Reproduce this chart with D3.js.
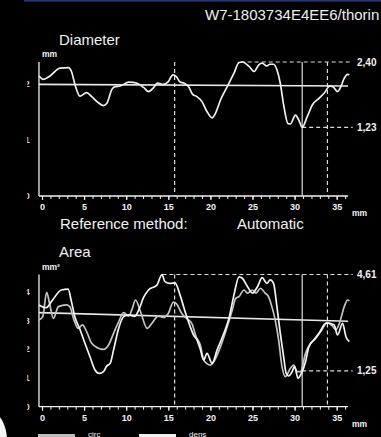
<!DOCTYPE html>
<html><head><meta charset="utf-8">
<script src="https://cdn.jsdelivr.net/npm/d3@7"></script>
<style>html,body{margin:0;padding:0;background:#000;overflow:hidden}svg{display:block}</style>
</head><body>
<script>
// ---- data (mm position, value) ----
const xTicks = d3.range(0, 37);
const xLabels = [0, 5, 10, 15, 20, 25, 30, 35];
const diamYTicks = [0, 1, 2];
const areaYTicks = [0, 1, 2, 3, 4];

const diamPos = [-0.36,0.15,0.95,2.14,3.13,3.5,3.93,4.5,5.3,5.9,6.7,7.3,7.7,8.3,8.7,9.3,10.3,11.3,12.1,12.65,13.25,13.7,14.4,15.0,15.55,15.95,16.4,16.9,17.4,17.9,18.4,19.0,19.6,20.2,20.6,21.2,22.0,22.8,23.4,23.8,24.6,25.2,25.75,26.15,26.7,27.06,27.5,27.9,28.3,28.7,29.2,29.5,30.1,30.5,30.9,31.5,32.1,32.9,33.5,34.2,34.6,35.1,35.5,35.9,36.3,36.5];
const diamVal = [2.15,2.09,2.15,2.29,2.30,2.23,1.99,1.79,1.85,1.78,1.67,1.62,1.66,1.91,1.96,1.97,2.04,2.02,1.94,1.87,1.94,2.02,2.0,2.05,2.17,2.14,2.04,2.02,1.96,1.82,1.78,1.69,1.51,1.40,1.48,1.72,1.96,2.20,2.39,2.40,2.32,2.23,2.35,2.38,2.33,2.36,2.36,2.26,2.02,1.63,1.30,1.29,1.45,1.36,1.23,1.42,1.63,1.75,1.84,1.97,1.95,1.87,1.96,2.11,2.18,2.17];
const diamRef = [2.0, 1.97];

const circPos = [-0.36,0.1,0.55,0.9,1.35,1.95,2.9,3.3,3.8,4.3,4.8,5.3,5.9,6.7,7.3,7.9,8.5,9.1,9.7,10.3,10.7,11.1,11.7,12.5,13.06,13.8,14.4,15.0,15.6,16.0,16.6,17.2,17.8,18.3,18.8,19.2,19.6,20.0,20.4,21.2,22.0,22.6,23.0,23.4,24.0,24.4,25.0,25.4,25.95,26.5,26.9,27.3,27.7,28.1,28.5,28.9,29.5,29.9,30.3,30.7,31.3,31.9,32.5,33.1,33.9,34.5,34.9,35.3,35.9,36.3,36.5];
const circVal = [3.02,3.15,3.99,3.6,3.08,3.49,3.55,3.49,3.02,2.73,2.85,2.62,2.21,2.04,2.0,2.15,2.56,2.96,3.28,3.16,3.4,3.72,3.31,2.73,2.91,3.16,3.11,3.25,3.65,3.58,3.25,3.07,2.9,2.44,2.15,1.63,1.5,1.45,1.57,2.09,2.79,3.37,3.78,3.84,4.07,3.96,4.07,3.96,4.13,3.96,3.84,3.49,3.02,2.33,1.4,1.05,1.34,1.45,1.22,1.22,1.86,2.21,2.38,2.62,2.93,2.81,2.68,2.89,3.49,3.72,3.69];

const densPos = [-0.36,0.5,1.2,2.3,3.1,3.5,3.9,4.5,5.1,5.7,6.3,6.8,7.3,7.7,8.1,8.5,9.1,9.7,10.3,11.0,11.6,12.06,12.65,13.65,14.25,14.6,15.2,15.8,16.4,17.0,17.6,18.0,18.4,18.8,19.2,19.6,20.2,20.8,21.6,22.2,22.8,23.4,23.8,24.4,25.0,25.6,26.15,26.7,27.1,27.5,27.9,28.3,28.7,29.0,29.3,29.7,30.0,30.4,30.8,31.3,31.7,32.3,32.9,33.7,34.1,34.7,35.1,35.7,36.1,36.5];
const densVal = [3.55,3.45,3.7,4.07,4.1,3.66,3.14,2.7,2.21,1.74,1.28,1.16,1.22,1.42,1.51,1.98,2.73,3.14,3.2,3.15,3.45,3.81,4.07,4.24,4.61,4.36,4.3,4.32,3.89,3.31,2.79,2.5,2.33,2.0,1.63,1.86,1.51,1.98,2.56,3.08,3.9,4.53,4.48,4.19,3.96,4.19,4.5,4.3,4.42,4.3,3.49,2.56,1.74,1.16,1.07,1.22,1.4,0.99,1.16,1.57,2.09,2.33,2.56,2.91,2.91,2.85,2.5,2.91,2.44,2.27];
const areaRef = [3.28, 2.98];

const markers = {start: 15.75, cursor: 30.9, end: 33.9};
const diamMax = 2.40, diamMin = 1.23, diamMaxAt = 23.6;
const areaMax = 4.61, areaMin = 1.25, areaMaxAt = 14.3;

// ---- drawing ----
const W = 381, H = 437;
const svg = d3.select("body").append("svg").attr("width", W).attr("height", H)
  .style("font-family", "'Liberation Sans', Arial, sans-serif");
svg.append("rect").attr("width", W).attr("height", H).attr("fill", "#000");
svg.append("rect").attr("x", 24).attr("y", 0).attr("width", W - 24).attr("height", 1.6).attr("fill", "#1d3b7c");

svg.append("text").attr("x", 205).attr("y", 20).attr("fill", "#eee").attr("font-size", 15)
  .text("W7-1803734E4EE6/thorin");

const x = d3.scaleLinear().domain([0, 35]).range([42, 336.7]);
const xStart = -0.36, xEnd = 36.35, xLabelEnd = 36.9;
const dash = "4,3";
const fg = "#f2f2f2";

svg.append("defs").append("clipPath").attr("id", "ylab")
  .append("rect").attr("x", 27.3).attr("y", 0).attr("width", 10).attr("height", H);

function panel(cfg) {
  const y = d3.scaleLinear().domain([0, cfg.max]).range([cfg.bottom, cfg.top]);
  const g = svg.append("g");
  g.append("text").attr("x", 59).attr("y", cfg.titleY).attr("fill", fg).attr("font-size", 15).text(cfg.title);
  g.append("text").attr("x", 42).attr("y", cfg.top - 5).attr("fill", fg).attr("font-size", 8.5)
    .attr("font-weight", "bold").text(cfg.unit);
  // y labels (clipped at left edge, as in the source)
  g.append("g").attr("clip-path", "url(#ylab)").selectAll("text").data(cfg.yTicks).join("text")
    .attr("x", 29.8).attr("y", d => y(d)).attr("dy", "0.35em").attr("text-anchor", "end")
    .attr("fill", "#ddd").attr("font-size", 9).attr("font-weight", "bold").text(d => d);
  g.append("line").attr("x1", x(xStart)).attr("x2", x(xStart)).attr("y1", cfg.top).attr("y2", cfg.bottom)
    .attr("stroke", fg).attr("stroke-width", 1.3);
  const ax = d3.axisBottom(x).tickValues(xTicks).tickSize(3).tickFormat("").tickSizeOuter(0);
  const axg = g.append("g").attr("transform", `translate(0,${cfg.bottom})`).call(ax);
  axg.select(".domain").remove();
  axg.selectAll("line").attr("stroke", fg).attr("stroke-width", 1);
  const axl = d3.axisBottom(x).tickValues(xLabels).tickSize(4).tickPadding(4).tickSizeOuter(0);
  const axlg = g.append("g").attr("transform", `translate(0,${cfg.bottom})`).call(axl);
  axlg.select(".domain").remove();
  axlg.selectAll("line").attr("stroke", fg).attr("stroke-width", 1.2);
  axlg.selectAll("text").attr("fill", fg).attr("font-size", 9).attr("font-weight", "bold")
    .attr("font-family", "'Liberation Sans', Arial, sans-serif");
  g.append("line").attr("x1", x(xStart)).attr("x2", x(xEnd)).attr("y1", cfg.bottom).attr("y2", cfg.bottom)
    .attr("stroke", fg).attr("stroke-width", 1.3);
  g.append("text").attr("x", 352).attr("y", cfg.bottom + 20).attr("fill", fg).attr("font-size", 8.5)
    .attr("font-weight", "bold").text("mm");
  g.append("line").attr("x1", x(xStart)).attr("x2", x(xEnd)).attr("y1", y(cfg.ref[0])).attr("y2", y(cfg.ref[1]))
    .attr("stroke", "#e8e8e8").attr("stroke-width", 1.6);
  [["start", dash], ["end", dash], ["cursor", null]].forEach(([k, d]) => {
    g.append("line").attr("x1", x(markers[k])).attr("x2", x(markers[k])).attr("y1", y(cfg.max)).attr("y2", cfg.bottom)
      .attr("stroke", "#ddd").attr("stroke-width", 1.2).attr("stroke-dasharray", d);
  });
  g.append("line").attr("x1", x(cfg.maxAt)).attr("x2", x(xLabelEnd)).attr("y1", y(cfg.max)).attr("y2", y(cfg.max))
    .attr("stroke", "#ddd").attr("stroke-width", 1.2).attr("stroke-dasharray", dash);
  g.append("line").attr("x1", x(markers.cursor)).attr("x2", x(xLabelEnd)).attr("y1", y(cfg.min)).attr("y2", y(cfg.min))
    .attr("stroke", "#ddd").attr("stroke-width", 1.2).attr("stroke-dasharray", dash);
  const fmt = v => d3.format(".2f")(v).replace(".", ",");
  [cfg.max, cfg.min].forEach(v => {
    g.append("text").attr("x", 357).attr("y", y(v)).attr("dy", "0.35em").attr("fill", fg)
      .attr("font-size", 10).attr("font-weight", "bold").text(fmt(v));
  });
  const line = d3.line().x(d => x(d[0])).y(d => y(d[1])).curve(d3.curveMonotoneX);
  cfg.series.forEach(s => {
    g.append("path").datum(d3.zip(s.pos, s.val)).attr("d", line).attr("fill", "none")
      .attr("stroke", s.color).attr("stroke-width", 1.7).attr("stroke-linejoin", "round");
  });
  return y;
}

panel({title: "Diameter", titleY: 45, unit: "mm", top: 62, bottom: 196, max: diamMax, min: diamMin,
  maxAt: diamMaxAt, yTicks: diamYTicks, ref: diamRef,
  series: [{pos: diamPos, val: diamVal, color: "#f0f0f0"}]});

svg.append("text").attr("x", 60).attr("y", 229).attr("fill", fg).attr("font-size", 15).text("Reference method:");
svg.append("text").attr("x", 237).attr("y", 229).attr("fill", fg).attr("font-size", 15).text("Automatic");

panel({title: "Area", titleY: 257, unit: "mm²", top: 274.5, bottom: 406.7, max: areaMax, min: areaMin,
  maxAt: areaMaxAt, yTicks: areaYTicks, ref: areaRef,
  series: [{pos: circPos, val: circVal, color: "#c4c4c4"}, {pos: densPos, val: densVal, color: "#f4f4f4"}]});

// legend (swatches run off the bottom edge as in the source)
const legend = [{name: "circ", x: 38, color: "#bdbdbd"}, {name: "dens", x: 139, color: "#f0f0f0"}];
legend.forEach(l => {
  svg.append("rect").attr("x", l.x).attr("y", 434).attr("width", 37).attr("height", 6).attr("fill", l.color);
  svg.append("text").attr("x", l.x + 50).attr("y", 436.5).attr("fill", fg).attr("font-size", 8).text(l.name);
});
svg.append("ellipse").attr("cx", -8).attr("cy", 441).attr("rx", 15).attr("ry", 28).attr("fill", "#f4f4f4");
</script>
</body></html>
